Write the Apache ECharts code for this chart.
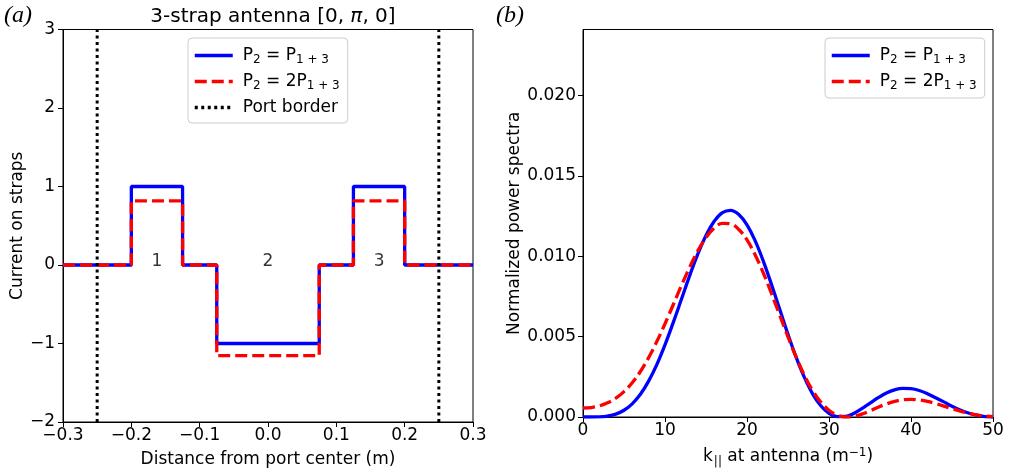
<!DOCTYPE html>
<html>
<head>
<meta charset="utf-8">
<script src="https://cdn.jsdelivr.net/npm/echarts@6/dist/echarts.min.js"></script>
<style>
html,body{margin:0;padding:0;background:#fff;}
#chart{width:1009px;height:473px;}
</style>
</head>
<body>
<div id="chart"></div>
<script>
// ---------- data ----------
// Panel (a): strap currents, piecewise constant between these edges (m)
const stepEdges = [-0.3, -0.2, -0.125, -0.075, 0.075, 0.125, 0.2, 0.3];
const currentEqual = [0, 1, 0, -1, 0, 1, 0];          // P2 = P1+3
const currentDouble = [0, 0.816, 0, -1.155, 0, 0.816, 0]; // P2 = 2P1+3
const portBorders = [-0.25, 0.25];
const strapLabelX = [-0.1625, 0, 0.1625];
const strapLabels = ['1', '2', '3'];
const leftXTicks = [-0.3, -0.2, -0.1, 0, 0.1, 0.2, 0.3];
const leftYTicks = [-2, -1, 0, 1, 2, 3];

// Panel (b): normalized power spectra vs k_parallel (m^-1)
const kValues = [0,1,2,3,4,5,6,7,8,9,10,11,12,13,14,15,16,17,18,19,20,21,22,23,24,25,
  26,27,28,29,30,31,32,33,34,35,36,37,38,39,40,41,42,43,44,45,46,47,48,49,50];
const spectrumEqual = [0,0,0.00001,0.00006,0.00018,0.00042,0.00082,0.00141,0.00223,0.00326,
  0.00449,0.00587,0.00732,0.00878,0.01013,0.01129,0.01217,0.01271,0.01285,0.01259,
  0.01195,0.01095,0.00968,0.00822,0.00668,0.00514,0.00371,0.00246,0.00144,0.00070,
  0.00023,0.00002,0.00003,0.00022,0.00052,0.00086,0.00120,0.00149,0.00169,0.00178,
  0.00176,0.00165,0.00145,0.00120,0.00094,0.00067,0.00044,0.00025,0.00011,0.00003,0];
const spectrumDouble = [0.00056,0.00059,0.00069,0.00088,0.00117,0.00158,0.00213,0.00283,0.00369,0.00469,
  0.00580,0.00698,0.00817,0.00931,0.01033,0.01116,0.01175,0.01204,0.01201,0.01166,
  0.01101,0.01008,0.00895,0.00766,0.00632,0.00498,0.00372,0.00259,0.00165,0.00093,
  0.00042,0.00012,0,0.00004,0.00018,0.00038,0.00061,0.00081,0.00097,0.00107,
  0.00110,0.00106,0.00097,0.00084,0.00068,0.00052,0.00037,0.00024,0.00013,0.00006,0.00002];
const rightXTicks = [0, 10, 20, 30, 40, 50];
const rightYTicks = [0, 0.005, 0.010, 0.015, 0.020];
const rightYMax = 0.0241;

const seriesNames = ['P2 = P1+3', 'P2 = 2P1+3', 'Port border'];

// ---------- helpers ----------
const FONT = 'DejaVu Sans';
function stepPoints(edges, vals) {
  const pts = [];
  for (let i = 0; i < vals.length; i++) {
    pts.push([edges[i], vals[i]]);
    pts.push([edges[i + 1], vals[i]]);
  }
  return pts;
}
function minus(s) { return String(s).replace('-', '\u2212'); }
function zip(xs, ys) { return xs.map((x, i) => [x, ys[i]]); }

const legendFormatter = function (name) {
  if (name === seriesNames[0]) return '{n|P}{s|2}{n| = P}{s|1 + 3}';
  if (name === seriesNames[1]) return '{n|P}{s|2}{n| = 2P}{s|1 + 3}';
  return '{n|' + name + '}';
};
const legendRich = {
  n: { fontFamily: FONT, fontSize: 17, color: '#000' },
  s: { fontFamily: FONT, fontSize: 12, color: '#000', padding: [9, 0, 0, 0] }
};
const legendCommon = {
  orient: 'vertical',
  itemWidth: 38,
  itemHeight: 14,
  itemGap: 7,
  backgroundColor: 'rgba(255,255,255,0.8)',
  borderColor: '#cccccc',
  borderWidth: 1,
  borderRadius: 4,
  padding: [9, 8, 7, 5],
  itemStyle: { opacity: 0, borderWidth: 0 },
  lineStyle: { width: 3.5 },
  formatter: legendFormatter,
  textStyle: { fontFamily: FONT, fontSize: 17, color: '#000', padding: [0, 0, 0, 5], rich: legendRich },
  selectedMode: false
};

const axisCommon = {
  axisLine: { show: true, onZero: false, lineStyle: { color: '#000', width: 1 } },
  axisTick: { show: true, inside: false, length: 5, lineStyle: { color: '#000', width: 1 } },
  splitLine: { show: false },
  axisLabel: { fontFamily: FONT, fontSize: 17, color: '#000' },
  nameTextStyle: { fontFamily: FONT, fontSize: 17, color: '#000' }
};

const chart = echarts.init(document.getElementById('chart'), null, { renderer: 'canvas' });

const option = {
  animation: false,
  backgroundColor: '#ffffff',
  title: [{
    text: '3-strap antenna [0, {i|π}, 0]',
    left: 268, top: 2, textAlign: 'center',
    textStyle: {
      fontFamily: FONT, fontSize: 20, fontWeight: 'normal', color: '#000',
      rich: { i: { fontFamily: FONT, fontStyle: 'italic', fontSize: 20, color: '#000' } }
    }
  }],
  graphic: [
    { type: 'text', left: 4, top: 4, style: { text: '(a)', font: 'italic 24px "Liberation Serif"', fill: '#000' } },
    { type: 'text', left: 496, top: 4, style: { text: '(b)', font: 'italic 24px "Liberation Serif"', fill: '#000' } }
  ],
  grid: [
    { left: 63, top: 29.5, width: 410, height: 394, show: true, borderColor: '#000', borderWidth: 1, backgroundColor: 'transparent' },
    { left: 583, top: 29.5, width: 410, height: 394, show: true, borderColor: '#000', borderWidth: 1, backgroundColor: 'transparent' }
  ],
  legend: [
    Object.assign({}, legendCommon, { left: 188, top: 38, data: seriesNames.slice(0, 3) }),
    Object.assign({}, legendCommon, { left: 825, top: 38, padding: [9, 8, 6, 5], data: seriesNames.slice(0, 2) })
  ],
  xAxis: [
    Object.assign({}, axisCommon, {
      gridIndex: 0, type: 'value', min: -0.3, max: 0.3,
      name: 'Distance from port center (m)', nameLocation: 'middle', nameGap: 29,
      axisTick: Object.assign({}, axisCommon.axisTick, { customValues: leftXTicks }),
      axisLabel: Object.assign({}, axisCommon.axisLabel, {
        customValues: leftXTicks, margin: 5,
        formatter: v => Math.abs(v) < 1e-9 ? '0.0' : minus(v.toFixed(1))
      })
    }),
    Object.assign({}, axisCommon, {
      gridIndex: 1, type: 'value', min: 0, max: 50,
      name: '{n|k}{sub|||}{n| at antenna (m}{sup|\u22121}{n|)}', nameLocation: 'middle', nameGap: 29,
      nameTextStyle: {
        fontFamily: FONT, fontSize: 17, color: '#000',
        rich: {
          n: { fontFamily: FONT, fontSize: 17, color: '#000' },
          sub: { fontFamily: FONT, fontSize: 12, color: '#000', padding: [10, 0, 0, 1] },
          sup: { fontFamily: FONT, fontSize: 12, color: '#000', padding: [0, 0, 9, 0] }
        }
      },
      axisTick: Object.assign({}, axisCommon.axisTick, { customValues: rightXTicks }),
      axisLabel: Object.assign({}, axisCommon.axisLabel, { customValues: rightXTicks, margin: 5 })
    })
  ],
  yAxis: [
    Object.assign({}, axisCommon, {
      gridIndex: 0, type: 'value', min: -2, max: 3,
      name: 'Current on straps', nameLocation: 'middle', nameGap: 35, nameRotate: 90,
      axisTick: Object.assign({}, axisCommon.axisTick, { customValues: leftYTicks }),
      axisLabel: Object.assign({}, axisCommon.axisLabel, { customValues: leftYTicks, margin: 8, formatter: v => minus(v) })
    }),
    Object.assign({}, axisCommon, {
      gridIndex: 1, type: 'value', min: 0, max: rightYMax,
      name: 'Normalized power spectra', nameLocation: 'middle', nameGap: 60, nameRotate: 90,
      axisTick: Object.assign({}, axisCommon.axisTick, { customValues: rightYTicks }),
      axisLabel: Object.assign({}, axisCommon.axisLabel, { customValues: rightYTicks, margin: 7, formatter: v => v.toFixed(3) })
    })
  ],
  series: [
    {
      name: seriesNames[0], type: 'line', xAxisIndex: 0, yAxisIndex: 0,
      data: stepPoints(stepEdges, currentEqual), symbol: 'none',
      lineStyle: { color: '#0000ff', width: 3.3, type: 'solid' }, itemStyle: { color: '#0000ff' }, z: 2
    },
    {
      name: seriesNames[1], type: 'line', xAxisIndex: 0, yAxisIndex: 0,
      data: stepPoints(stepEdges, currentDouble), symbol: 'none',
      lineStyle: { color: '#ff0000', width: 3.3, type: [12, 5] }, itemStyle: { color: '#ff0000' }, z: 3
    },
    {
      name: seriesNames[2], type: 'line', xAxisIndex: 0, yAxisIndex: 0,
      data: [[portBorders[0], -2], [portBorders[0], 3]], symbol: 'none',
      lineStyle: { color: '#000', width: 3, type: [3, 3.5] }, itemStyle: { color: '#000' }, z: 4
    },
    {
      name: seriesNames[2], type: 'line', xAxisIndex: 0, yAxisIndex: 0,
      data: [[portBorders[1], -2], [portBorders[1], 3]], symbol: 'none',
      lineStyle: { color: '#000', width: 3, type: [3, 3.5] }, itemStyle: { color: '#000' }, z: 4
    },
    {
      name: 'strap labels', type: 'scatter', xAxisIndex: 0, yAxisIndex: 0, silent: true,
      symbolSize: 1, itemStyle: { color: 'rgba(0,0,0,0)' },
      data: strapLabelX.map((x, i) => ({ name: strapLabels[i], value: [x, 0] })),
      label: { show: true, position: 'top', distance: -6, formatter: p => p.name, fontFamily: FONT, fontSize: 17, color: '#000' }
    },
    {
      name: seriesNames[0], type: 'line', xAxisIndex: 1, yAxisIndex: 1,
      data: zip(kValues, spectrumEqual), symbol: 'none', smooth: 0.4,
      lineStyle: { color: '#0000ff', width: 3.3, type: 'solid' }, itemStyle: { color: '#0000ff' }, z: 2
    },
    {
      name: seriesNames[1], type: 'line', xAxisIndex: 1, yAxisIndex: 1,
      data: zip(kValues, spectrumDouble), symbol: 'none', smooth: 0.4,
      lineStyle: { color: '#ff0000', width: 3.3, type: [12, 5] }, itemStyle: { color: '#ff0000' }, z: 3
    }
  ]
};
chart.setOption(option);
</script>
</body>
</html>
